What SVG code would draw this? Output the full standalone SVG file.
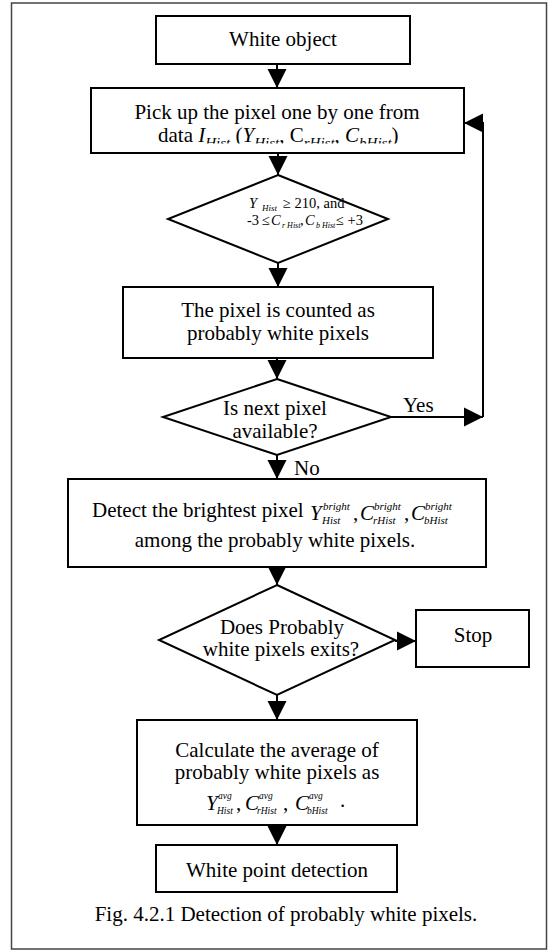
<svg xmlns="http://www.w3.org/2000/svg" width="552" height="951" viewBox="0 0 552 951">
  <style>
    .box { fill: #fff; stroke: #000; stroke-width: 2; }
    .frame { fill: none; stroke: #444; stroke-width: 1.5; }
    .link { fill: none; stroke: #000; stroke-width: 2; }
    .t { font-family: "Liberation Serif", "Times New Roman", serif; font-size: 21px; fill: #000; }
    .c { text-anchor: middle; }
    .it { font-style: italic; }
    .sm { font-size: 14.5px; }
    .idx { font-family: "Liberation Serif", "Times New Roman", serif; font-style: italic; fill: #000; }
  </style>
  <defs>
    <marker id="ah" markerWidth="20" markerHeight="20" refX="19" refY="10" orient="auto" markerUnits="userSpaceOnUse">
      <path d="M0,0.5 L19,10 L0,19.5 Z" fill="#000"/>
    </marker>
    <clipPath id="pickClip">
      <rect x="91" y="88" width="373" height="55.5"/>
    </clipPath>
  </defs>

  <rect width="552" height="951" fill="#fff"/>
  <rect class="frame" x="11.5" y="3" width="535" height="946"/>

  <g id="connectors">
    <path class="link" d="M277,64 V88" marker-end="url(#ah)"/>
    <path class="link" d="M278,153 V175" marker-end="url(#ah)"/>
    <path class="link" d="M278,263 V287" marker-end="url(#ah)"/>
    <path class="link" d="M277,358 V379" marker-end="url(#ah)"/>
    <path class="link" d="M391,417 H483" marker-end="url(#ah)"/>
    <path class="link" d="M483,417 V123 H464" marker-end="url(#ah)"/>
    <path class="link" d="M277,455 V479" marker-end="url(#ah)"/>
    <path class="link" d="M277,567 V585" marker-end="url(#ah)"/>
    <path class="link" d="M395,641 H416" marker-end="url(#ah)"/>
    <path class="link" d="M277,695 V720" marker-end="url(#ah)"/>
    <path class="link" d="M277,825 V845" marker-end="url(#ah)"/>
    <text class="t" x="403" y="412">Yes</text>
    <text class="t" x="294" y="475">No</text>
  </g>

  <g id="white-object">
    <rect class="box" x="156" y="16" width="254" height="48"/>
    <text class="t c" x="283" y="46">White object</text>
  </g>

  <g id="pick-pixel">
    <rect class="box" x="91" y="88" width="373" height="65"/>
    <text class="t c" x="277" y="119">Pick up the pixel one by one from</text>
    <text class="t" x="158" y="142" clip-path="url(#pickClip)">data <tspan class="it">I</tspan><tspan class="it" font-size="15" dy="6">Hist</tspan><tspan dy="-6"> (</tspan><tspan class="it">Y</tspan><tspan class="it" font-size="15" dy="6">Hist</tspan><tspan dy="-6">, C</tspan><tspan class="it" font-size="15" dy="6">rHist</tspan><tspan dy="-6">, </tspan><tspan class="it">C</tspan><tspan class="it" font-size="15" dy="6">bHist</tspan><tspan dy="-6">)</tspan></text>
  </g>

  <g id="range-test">
    <polygon class="box" points="278,175 388,219 278,263 168,219"/>
    <text class="t sm" x="249" y="208"><tspan class="it">Y</tspan><tspan class="it" x="262" font-size="9" dy="2.5">Hist</tspan><tspan x="283" dy="-2.5">≥ 210, and</tspan></text>
    <text class="t sm" x="247" y="225">-3<tspan x="262">≤</tspan><tspan class="it" x="271">C</tspan><tspan class="it" x="282" font-size="8" dy="3">r Hist</tspan><tspan x="300" dy="-3">,</tspan><tspan class="it" x="305">C</tspan><tspan class="it" x="316" font-size="8" dy="3">b Hist</tspan><tspan x="336" dy="-3">≤ +3</tspan></text>
  </g>

  <g id="count-pixel">
    <rect class="box" x="123" y="287" width="310" height="71"/>
    <text class="t c" x="278" y="317">The pixel is counted as</text>
    <text class="t c" x="278" y="340">probably white pixels</text>
  </g>

  <g id="next-pixel">
    <polygon class="box" points="277,379 391,417 277,455 163,417"/>
    <text class="t c" x="275" y="415">Is next pixel</text>
    <text class="t c" x="275" y="438">available?</text>
  </g>

  <g id="brightest">
    <rect class="box" x="68" y="479" width="418" height="88"/>
    <text class="t" x="92" y="517">Detect the brightest pixel</text>
    <text class="t it" x="310" y="520" font-size="20">Y</text>
    <text class="idx" x="323" y="510" font-size="11">bright</text>
    <text class="idx" x="322" y="524" font-size="11">Hist</text>
    <text class="t" x="353" y="520" font-size="16">,</text>
    <text class="t it" x="360" y="520" font-size="20">C</text>
    <text class="idx" x="374" y="510" font-size="11">bright</text>
    <text class="idx" x="373" y="524" font-size="11">rHist</text>
    <text class="t" x="404" y="520" font-size="16">,</text>
    <text class="t it" x="411" y="520" font-size="20">C</text>
    <text class="idx" x="425" y="510" font-size="11">bright</text>
    <text class="idx" x="424" y="524" font-size="11">bHist</text>
    <text class="t c" x="275" y="547">among the probably white pixels.</text>
  </g>

  <g id="exists-test">
    <polygon class="box" points="277,585 395,640 277,695 159,640"/>
    <text class="t c" x="282" y="634">Does Probably</text>
    <text class="t c" x="281" y="656">white pixels exits?</text>
  </g>

  <g id="stop">
    <rect class="box" x="416" y="610" width="113" height="57"/>
    <text class="t c" x="473" y="642">Stop</text>
  </g>

  <g id="average">
    <rect class="box" x="137" y="720" width="280" height="105"/>
    <text class="t c" x="277" y="757">Calculate the average of</text>
    <text class="t c" x="277" y="779">probably white pixels as</text>
    <text class="t it" x="206" y="810" font-size="18">Y</text>
    <text class="idx" x="218" y="799" font-size="9.5">avg</text>
    <text class="idx" x="217" y="814" font-size="9.5">Hist</text>
    <text class="t" x="236" y="810" font-size="16">,</text>
    <text class="t it" x="245" y="810" font-size="18">C</text>
    <text class="idx" x="259" y="799" font-size="9.5">avg</text>
    <text class="idx" x="257" y="814" font-size="9.5">rHist</text>
    <text class="t" x="283" y="810" font-size="16">,</text>
    <text class="t it" x="295" y="810" font-size="18">C</text>
    <text class="idx" x="309" y="799" font-size="9.5">avg</text>
    <text class="idx" x="307" y="814" font-size="9.5">bHist</text>
    <text class="t" x="340" y="807" font-size="16">.</text>
  </g>

  <g id="white-point">
    <rect class="box" x="156" y="845" width="241" height="47"/>
    <text class="t c" x="277" y="877">White point detection</text>
  </g>

  <text id="caption" class="t c" x="286" y="921">Fig. 4.2.1 Detection of probably white pixels.</text>
</svg>
